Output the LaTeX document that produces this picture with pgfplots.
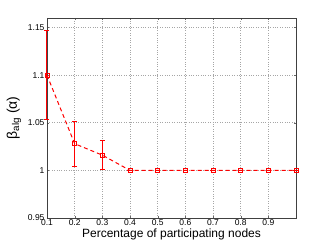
\documentclass[border=0pt]{standalone}
\usepackage{fontspec}
\setmainfont{Liberation Sans}
\usepackage{pgfplots}
\pgfplotsset{compat=1.18}
\begin{document}
\begin{tikzpicture}[x=1pt,y=1pt]
\useasboundingbox (-47,-28) rectangle (280,218);
\begin{axis}[
  at={(0,0)}, anchor=south west,
  scale only axis, width=249pt, height=200pt,
  xmin=0.1, xmax=1.0, ymin=0.95, ymax=1.16,
  xtick={0.1,0.2,...,0.9},
  ytick={0.95,1,1.05,1.1,1.15},
  xticklabels={0.1,0.2,0.3,0.4,0.5,0.6,0.7,0.8,0.9},
  yticklabels={0.95,1,1.05,1.1,1.15},
  grid=major,
  major grid style={dotted, black!35, line width=0.6pt},
  tick align=inside,
  major tick length=2pt,
  tick style={black!60},
  axis line style={black!75, line width=0.6pt},
  ticklabel style={font=\fontsize{8.5}{9}\selectfont},
  xticklabel style={yshift=2pt},
  yticklabel style={xshift=1pt},
  xlabel={Percentage of participating nodes},
  ylabel={β\textsubscript{alg} (α)},
  xlabel style={font=\fontsize{12}{13}\selectfont, yshift=4pt},
  ylabel style={font=\fontsize{14}{15}\selectfont, yshift=0pt},
  clip=false,
]
\addplot+[red, line width=1pt, dash pattern=on 4pt off 3pt, mark=square, mark size=2pt,
  mark options={solid, red, line width=0.8pt},
  error bars/.cd, y dir=both, y explicit,
  error bar style={solid, red, line width=1pt},
  error mark options={rotate=90, mark size=2.5pt, red, line width=1pt}]
  coordinates {
  (0.1,1.100) +- (0,0.047)
  (0.2,1.028) +- (0,0.0235)
  (0.3,1.016) +- (0,0.015)
  (0.4,1.000) +- (0,0)
  (0.5,1.000) +- (0,0)
  (0.6,1.000) +- (0,0)
  (0.7,1.000) +- (0,0)
  (0.8,1.000) +- (0,0)
  (0.9,1.000) +- (0,0)
  (1.0,1.000) +- (0,0)
};
\end{axis}
\end{tikzpicture}
\end{document}
